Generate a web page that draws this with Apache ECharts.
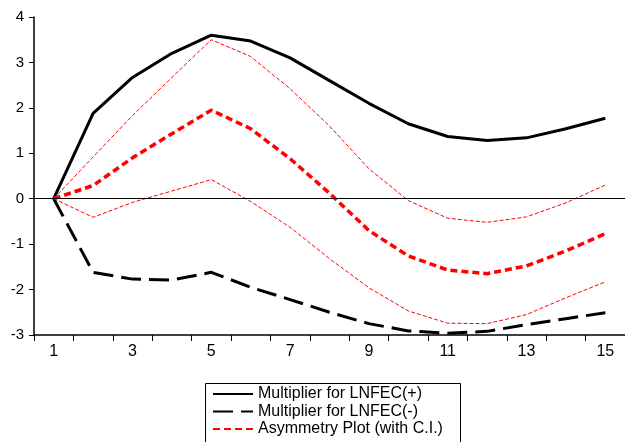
<!DOCTYPE html>
<html>
<head>
<meta charset="utf-8">
<script src="https://cdn.jsdelivr.net/npm/echarts@6/dist/echarts.min.js"></script>
<style>
  html, body { margin: 0; padding: 0; background: #fff; }
  #chart { width: 625px; height: 442px; }
</style>
</head>
<body>
<div id="chart"></div>
<script>
const periods = ["1", "2", "3", "4", "5", "6", "7", "8", "9", "10", "11", "12", "13", "14", "15"];
const positiveMultiplier = [0, 1.88, 2.67, 3.2, 3.6, 3.47, 3.1, 2.6, 2.1, 1.65, 1.37, 1.28, 1.34, 1.54, 1.77];
const negativeMultiplier = [0, -1.62, -1.77, -1.79, -1.62, -1.95, -2.22, -2.5, -2.75, -2.91, -2.96, -2.92, -2.77, -2.64, -2.51];
const asymmetry = [0, 0.29, 0.9, 1.43, 1.95, 1.54, 0.88, 0.12, -0.7, -1.26, -1.57, -1.65, -1.48, -1.15, -0.77];
const upperCI = [0, 0.92, 1.83, 2.67, 3.5, 3.13, 2.42, 1.6, 0.66, -0.04, -0.43, -0.52, -0.4, -0.09, 0.3];
const lowerCI = [0, -0.41, -0.08, 0.17, 0.42, -0.06, -0.63, -1.32, -1.96, -2.47, -2.74, -2.75, -2.55, -2.18, -1.83];

const chart = echarts.init(document.getElementById("chart"));

const thinRed = { color: "#ff0000", width: 1, type: [4, 2] };

chart.setOption({
  animation: false,
  textStyle: { fontFamily: "Liberation Sans, Arial, sans-serif" },
  grid: { left: 34, top: 17, right: -3, bottom: 107 },
  // legend frame runs off the bottom edge like the original
  graphic: [{
    type: "rect",
    left: 203,
    top: 381,
    shape: { width: 255, height: 80 },
    style: { fill: "none", stroke: "#000", lineWidth: 1 },
    silent: true
  }],
  legend: {
    data: ["Multiplier for LNFEC(+)", "Multiplier for LNFEC(-)", "Asymmetry Plot (with C.I.)"],
    orient: "vertical",
    left: 203,
    top: 381,
    padding: [5, 8, 0, 9],
    itemGap: 1.5,
    itemWidth: 40,
    itemHeight: 14,
    itemStyle: { opacity: 0 },
    textStyle: { color: "#000", fontSize: 16, lineHeight: 16 }
  },
  xAxis: {
    type: "category",
    data: periods,
    boundaryGap: true,
    axisLine: { show: true, onZero: false, lineStyle: { color: "#000", width: 1.5 } },
    axisTick: { show: true, interval: 0, length: 6, lineStyle: { color: "#000" } },
    axisLabel: { interval: 1, color: "#000", fontSize: 16, margin: 9 },
    splitLine: { show: false }
  },
  yAxis: {
    type: "value",
    min: -3,
    max: 4,
    interval: 1,
    axisLine: { show: true, onZero: false, lineStyle: { color: "#000", width: 1.5 } },
    axisTick: { show: true, length: 5, lineStyle: { color: "#000" } },
    axisLabel: { color: "#000", fontSize: 15, margin: 10 },
    splitLine: { show: false }
  },
  series: [
    {
      name: "Upper CI",
      type: "line",
      data: upperCI,
      symbol: "none",
      lineStyle: thinRed,
      markLine: {
        silent: true,
        symbol: "none",
        label: { show: false },
        lineStyle: { color: "#000", width: 1, type: "solid" },
        data: [{ yAxis: 0 }]
      }
    },
    {
      name: "Lower CI",
      type: "line",
      data: lowerCI,
      symbol: "none",
      lineStyle: thinRed
    },
    {
      name: "Multiplier for LNFEC(+)",
      type: "line",
      data: positiveMultiplier,
      symbol: "none",
      itemStyle: { color: "#000" },
      lineStyle: { color: "#000", width: 3 }
    },
    {
      name: "Multiplier for LNFEC(-)",
      type: "line",
      data: negativeMultiplier,
      symbol: "none",
      itemStyle: { color: "#000" },
      lineStyle: { color: "#000", width: 3, type: [20, 8] }
    },
    {
      name: "Asymmetry Plot (with C.I.)",
      type: "line",
      data: asymmetry,
      symbol: "none",
      itemStyle: { color: "#ff0000" },
      lineStyle: { color: "#ff0000", width: 3.5, type: [7, 4] }
    }
  ]
});
</script>
</body>
</html>
